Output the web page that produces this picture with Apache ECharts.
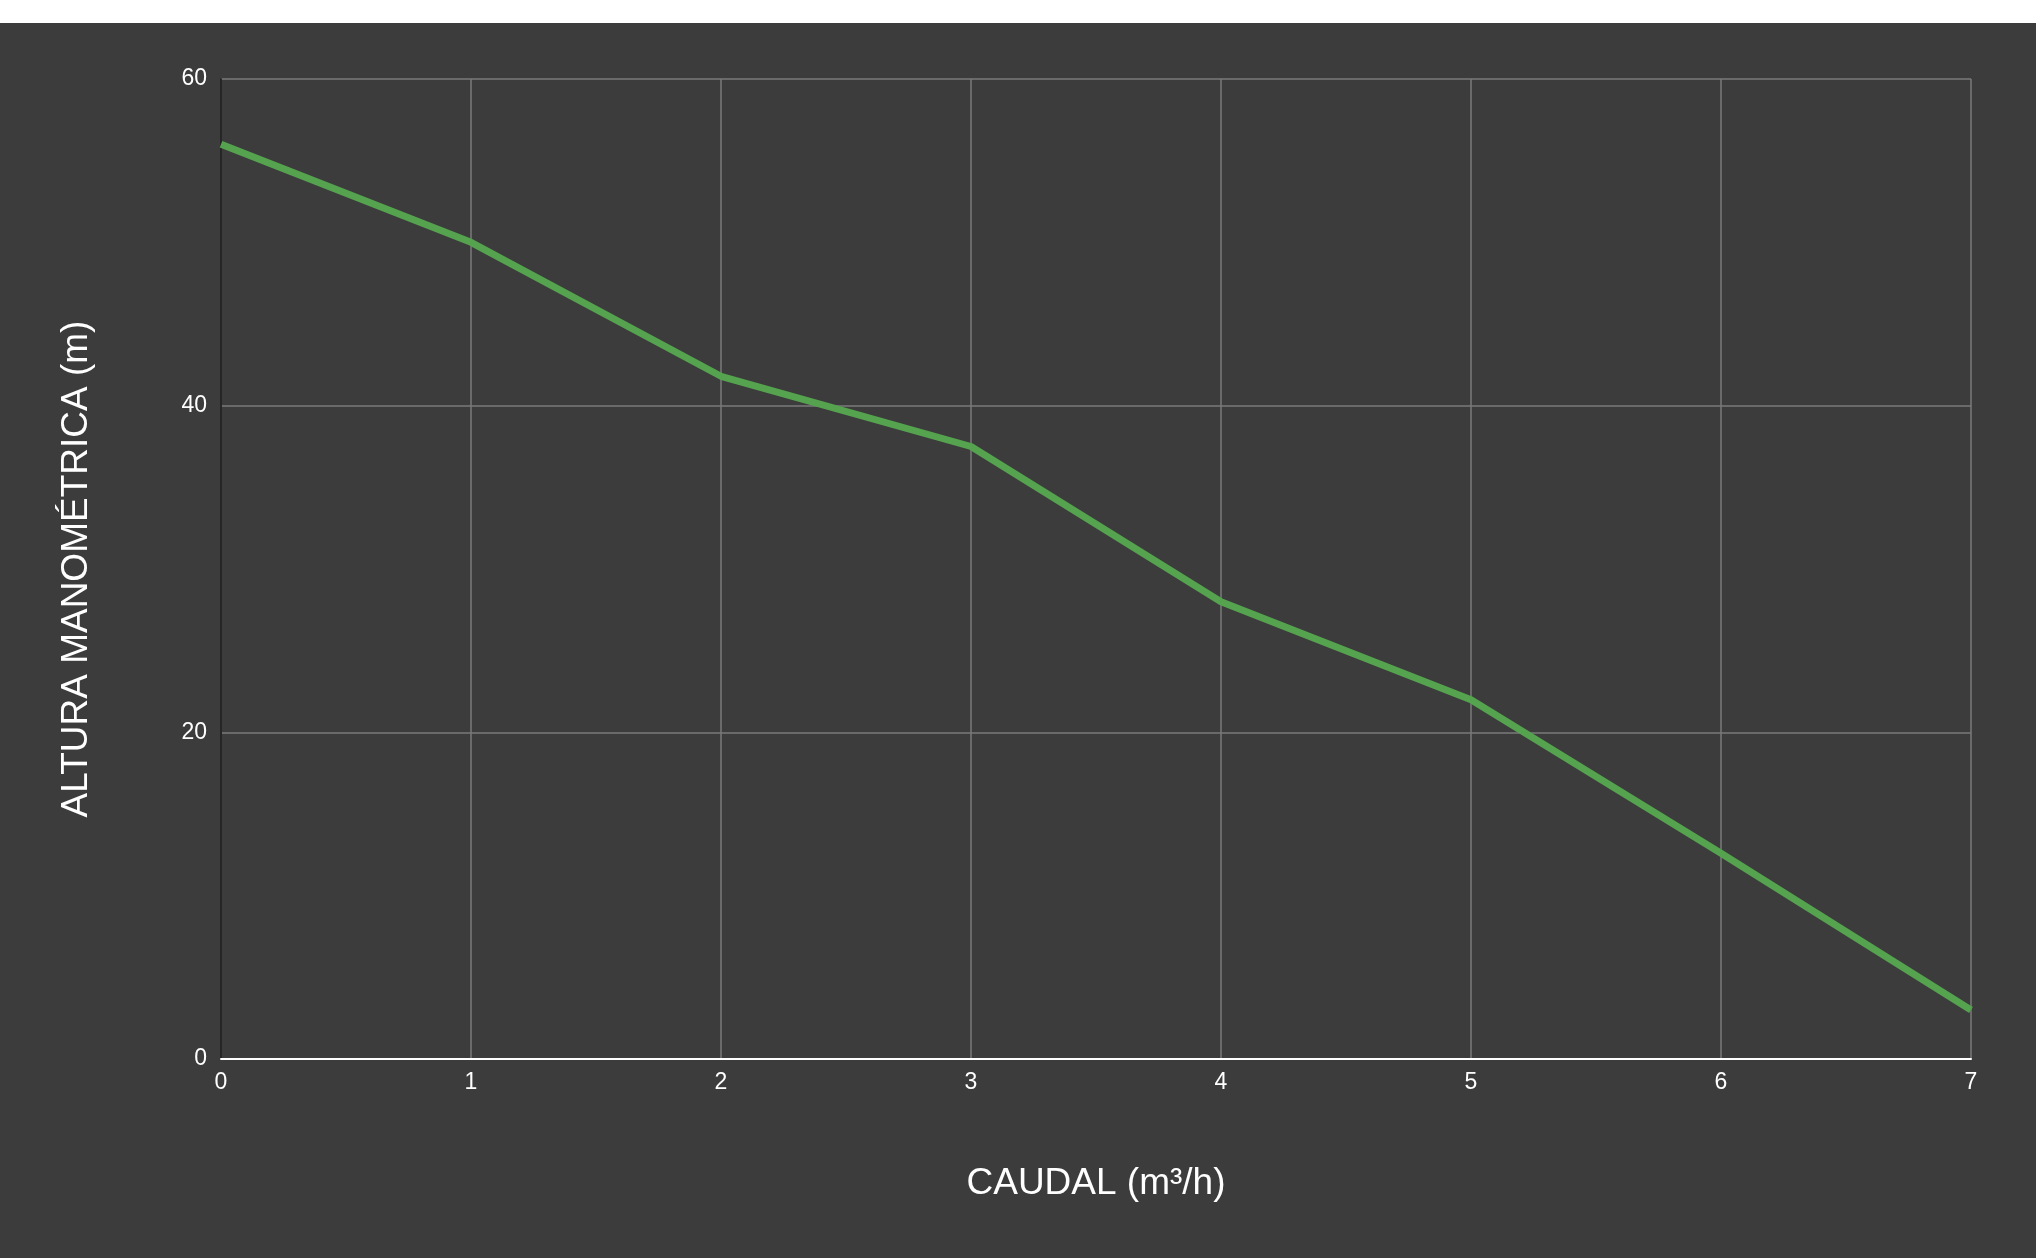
<!DOCTYPE html>
<html><head><meta charset="utf-8">
<script src="https://cdn.jsdelivr.net/npm/echarts@6/dist/echarts.min.js"></script>
<style>html,body{margin:0;padding:0;background:#fff;}#c{position:absolute;left:0;top:23px;width:2036px;height:1235px;background:#3c3c3c;}</style>
</head><body><div id="c"></div>
<script>
const caudal = [0,1,2,3,4,5,6,7];
const altura = [56,50,41.8,37.5,28,22,12.6,3];
const xTitle = 'CAUDAL (m³/h)';
const yTitle = 'ALTURA MANOMÉTRICA (m)';
const chart = echarts.init(document.getElementById('c'));
chart.setOption({
  backgroundColor:'#3c3c3c',
  animation:false,
  grid:{left:221,right:65,top:56,bottom:199},
  xAxis:{type:'value',min:0,max:7,interval:1,name:xTitle,nameLocation:'middle',nameGap:106,
    nameTextStyle:{color:'#fff',fontSize:37,fontFamily:'Arial, Liberation Sans'},
    axisLine:{show:true,onZero:false,lineStyle:{color:'#ffffff',width:2}},axisTick:{show:false},
    axisLabel:{color:'#fff',fontSize:23,margin:12,fontFamily:'Arial, Liberation Sans'},
    splitLine:{show:true,lineStyle:{color:'#7a7a7a',width:1.5}}},
  yAxis:{type:'value',min:0,max:60,interval:20,name:yTitle,nameLocation:'middle',nameGap:126,
    nameTextStyle:{color:'#fff',fontSize:37,fontFamily:'Arial, Liberation Sans'},
    axisLine:{show:true,lineStyle:{color:'#111',width:1.5}},axisTick:{show:false},
    axisLabel:{color:'#fff',fontSize:23,margin:14,fontFamily:'Arial, Liberation Sans'},
    splitLine:{show:true,lineStyle:{color:'#7a7a7a',width:1.5}}},
  series:[{type:'line',data:caudal.map((x,i)=>[x,altura[i]]),symbol:'none',
    lineStyle:{color:'#55a24f',width:7}}]
});
</script></body></html>
